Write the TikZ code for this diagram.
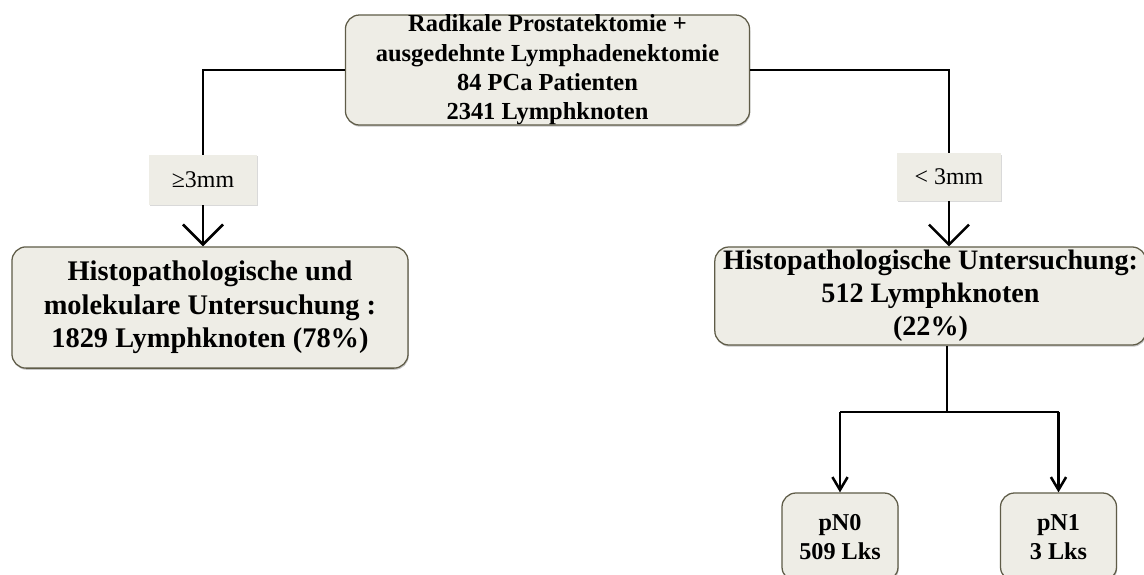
\documentclass[tikz,border=0pt]{standalone}
\usepackage{fontspec}
\setmainfont{Liberation Serif}
\usetikzlibrary{arrows.meta,shadows}

\definecolor{boxfill}{HTML}{EEEDE6}
\definecolor{boxline}{HTML}{5F5C48}

\tikzset{
  kasten/.style={draw=boxline, line width=0.9pt, fill=boxfill, rounded corners=10pt,
    align=center, font=\bfseries, inner sep=0pt,
    drop shadow={shadow xshift=0.5pt, shadow yshift=-1.2pt, opacity=0.45}},
  marke/.style={fill=boxfill, inner sep=0pt,
    drop shadow={shadow xshift=0.4pt, shadow yshift=-1pt, opacity=0.3}},
  linie/.style={line width=1.8pt},
  grosspfeil/.style={linie, -{Straight Barb[length=0.5cm, width=1cm]}},
  kleinpfeil/.style={linie, -{Straight Barb[length=0.32cm, width=0.38cm]}},
}

\begin{document}
\begin{tikzpicture}[x=0.025cm, y=-0.025cm]
    \useasboundingbox (0,0) rectangle (1144,574);
    \clip (0,0) rectangle (1144,574);

    % Kästen
    \node[kasten, minimum width=10.1cm, minimum height=2.75cm, font=\bfseries\fontsize{17.4}{20.8}\selectfont]
        (op) at (547.5,70) {Radikale Prostatektomie +\\ausgedehnte Lymphadenektomie\\84 PCa Patienten\\2341 Lymphknoten};
    \node[marke, minimum width=2.7cm, minimum height=1.25cm, font=\fontsize{17}{20}\selectfont]
        (gross) at (203,180) {≥3mm};
    \node[marke, minimum width=2.6cm, minimum height=1.18cm, font=\fontsize{17}{20}\selectfont]
        (klein) at (949,177) {< 3mm};
    \node[kasten, minimum width=9.9cm, minimum height=3.03cm, font=\bfseries\fontsize{20.2}{23.8}\selectfont]
        (molek) at (210,307.5) {Histopathologische und\\molekulare Untersuchung :\\1829 Lymphknoten (78\%)};
    \node[kasten, minimum width=10.78cm, minimum height=2.45cm, font=\bfseries\fontsize{20}{23.5}\selectfont]
        (histo) at (930.5,296) {Histopathologische Untersuchung:\\512 Lymphknoten\\(22\%)};
    \node[kasten, minimum width=2.9cm, minimum height=2.2cm, font=\bfseries\fontsize{17.2}{20.2}\selectfont]
        (pnnull) at (840,537) {pN0\\509 Lks};
    \node[kasten, minimum width=2.9cm, minimum height=2.2cm, font=\bfseries\fontsize{17.2}{20.2}\selectfont]
        (pneins) at (1058.5,537) {pN1\\3 Lks};

    % Verbindungen
    \draw[linie] (op.west) -| (gross.north);
    \draw[linie] (op.east) -| (klein.north);
    \draw[grosspfeil] (gross.south) -- (gross.south |- molek.north);
    \draw[grosspfeil] (klein.south) -- (klein.south |- histo.north);

    \coordinate (teil) at (947,412);
    \draw[linie] (teil |- histo.south) -- (teil);
    \draw[linie] (teil -| pnnull) -- (teil -| pneins);
    \draw[kleinpfeil] (teil -| pnnull) -- (pnnull.north);
    \draw[kleinpfeil] (teil -| pneins) -- (pneins.north);
\end{tikzpicture}
\end{document}
